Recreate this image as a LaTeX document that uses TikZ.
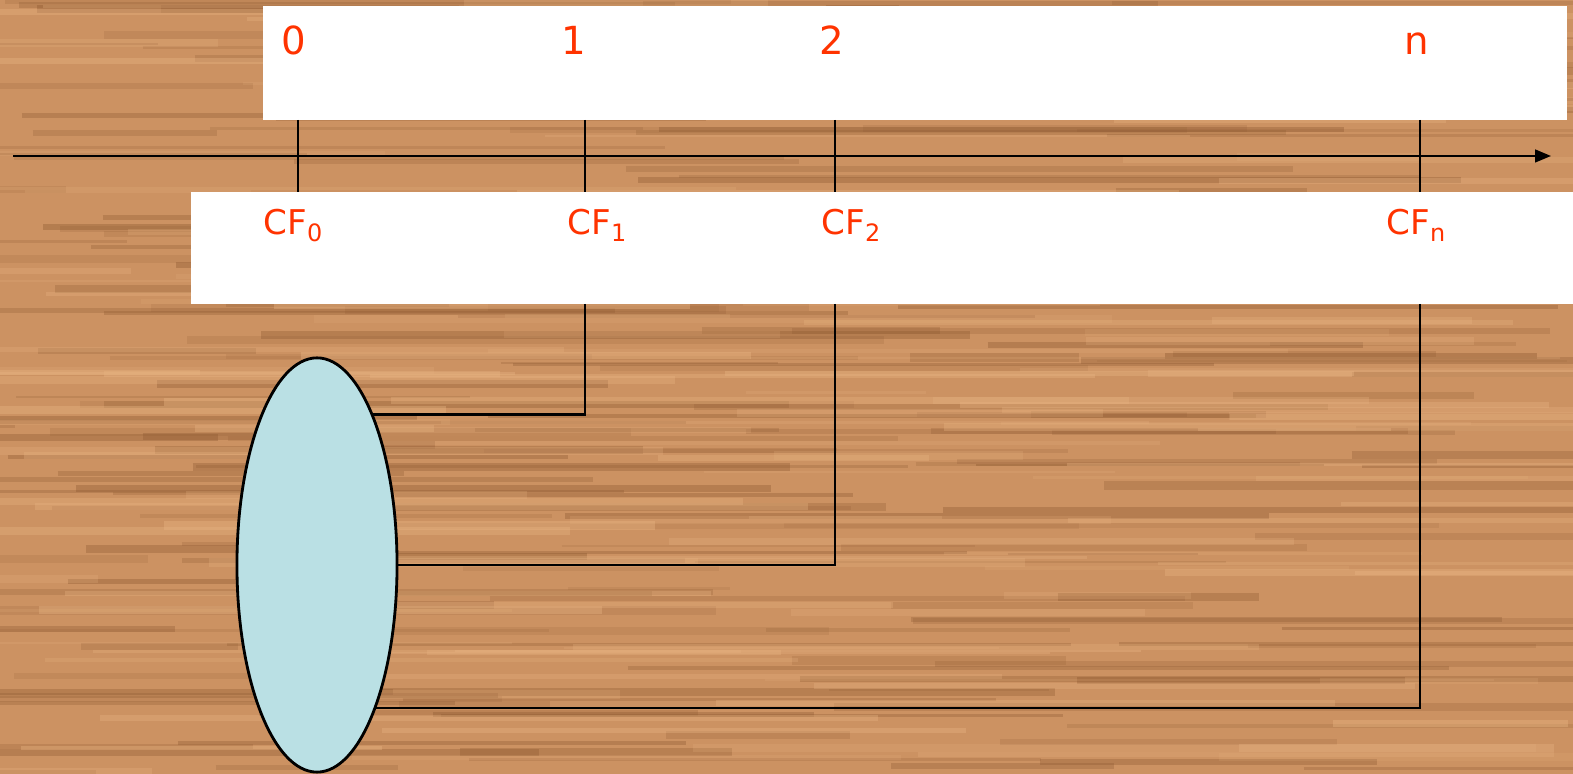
\documentclass[tikz,border=0pt]{standalone}
\usepackage{fontspec}
\setmainfont{DejaVu Sans}
\usetikzlibrary{shapes.geometric,arrows.meta}
\definecolor{wood}{RGB}{204,146,98}
\definecolor{wooddark}{RGB}{140,88,48}
\definecolor{woodlight}{RGB}{232,180,130}
\definecolor{lbl}{RGB}{255,51,0}
\definecolor{ellfill}{RGB}{186,224,228}
\tikzset{
  whitebox/.style={fill=white,draw=none},
  toplbl/.style={text=lbl,font=\fontsize{11}{13}\selectfont,inner sep=0pt,anchor=base},
  cflbl/.style={text=lbl,font=\fontsize{9.7}{12}\selectfont,inner sep=0pt,anchor=base west},
  tickline/.style={line width=0.8pt},
  conn/.style={line width=0.75pt},
}
\newcommand{\sbs}[1]{\raisebox{-0.35ex}{\fontsize{6.8}{8}\selectfont #1}}
\begin{document}
\begin{tikzpicture}[x=0.01cm,y=-0.01cm]
\useasboundingbox (0,0) rectangle (1573,774);
% wood background
\fill[wood] (0,0) rectangle (1573,774);
\begin{scope}
\clip (0,0) rectangle (1573,774);
\pgfmathsetseed{7}
\foreach \i in {1,...,220}{
  \pgfmathsetmacro{\yy}{rnd*774}
  \pgfmathsetmacro{\xa}{rnd*1573-200}
  \pgfmathsetmacro{\ll}{150+rnd*700}
  \pgfmathsetmacro{\ww}{0.5+rnd*2}
  \pgfmathsetmacro{\op}{0.12+rnd*0.25}
  \draw[wooddark,opacity=\op,line width=\ww pt] (\xa,\yy) -- ++(\ll,0);
}
\foreach \i in {1,...,160}{
  \pgfmathsetmacro{\yy}{rnd*774}
  \pgfmathsetmacro{\xa}{rnd*1573-200}
  \pgfmathsetmacro{\ll}{150+rnd*700}
  \pgfmathsetmacro{\ww}{0.5+rnd*2}
  \pgfmathsetmacro{\op}{0.15+rnd*0.25}
  \draw[woodlight,opacity=\op,line width=\ww pt] (\xa,\yy) -- ++(\ll,0);
}
\end{scope}
% white boxes
\fill[whitebox] (263,6) rectangle (1567,120);
\fill[whitebox] (191,192) rectangle (1573,304);
% time axis
\coordinate (axs) at (13,156);
\coordinate (axe) at (1551,156);
\draw[line width=0.6pt,-{Triangle[length=4.5pt,width=3.6pt]}] (axs) -- (axe);
% tick coordinates
\foreach \n/\x in {t0/298,t1/585,t2/835,tn/1420}{
  \coordinate (\n a) at (\x,120);
  \coordinate (\n b) at (\x,192);
  \coordinate (\n c) at (\x,304);
  \draw[tickline] (\n a) -- (\n b);
}
% top labels
\node[toplbl] (l0) at (293.5,55) {0};
\node[toplbl] (l1) at (574,55) {1};
\node[toplbl] (l2) at (832,55) {2};
\node[toplbl] (ln) at (1417,55) {n};
% CF labels
\node[cflbl] (cf0) at (263,235) {CF\sbs{0}};
\node[cflbl] (cf1) at (567,235) {CF\sbs{1}};
\node[cflbl] (cf2) at (821,235) {CF\sbs{2}};
\node[cflbl] (cfn) at (1386,235) {CF\sbs{n}};
% ellipse
\node[ellipse,draw,line width=0.8pt,fill=ellfill,inner sep=0pt,outer sep=0pt,
      minimum width=1.6cm,minimum height=4.14cm] (ell) at (317,565) {};
% connectors
\draw[conn] (t1c) |- (ell.70.4);
\draw[conn] (t2c) |- (ell.east);
\draw[conn] (tnc) |- (ell.-68.2);
\end{tikzpicture}
\end{document}
